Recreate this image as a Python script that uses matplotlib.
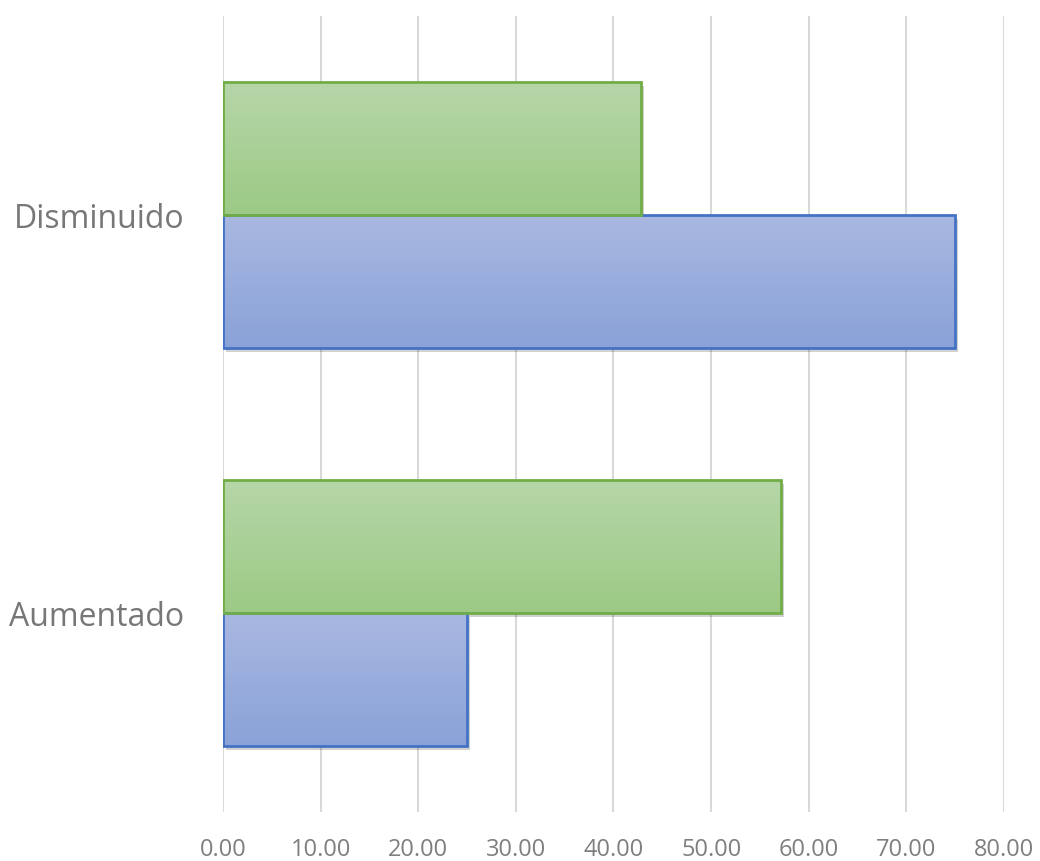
import numpy as np
import matplotlib
matplotlib.use('Agg')
import matplotlib.pyplot as plt
import matplotlib.patheffects as pe
from matplotlib.colors import LinearSegmentedColormap

# Datos
categorias = ["Aumentado", "Disminuido"]
serie_azul = [25.00, 75.00]
serie_verde = [57.14, 42.86]
xticks = [0, 10, 20, 30, 40, 50, 60, 70, 80]

plt.rcParams['font.family'] = ['Open Sans', 'DejaVu Sans']

fig = plt.figure(figsize=(10.4, 8.61), dpi=100)
ax = fig.add_axes([0.2144, 0.0569, 0.7510, 0.9245])

h = 0.334
y = np.arange(len(categorias))

azul_cmap = LinearSegmentedColormap.from_list("azul", ["#a9b8e1", "#8aa2d8"])
verde_cmap = LinearSegmentedColormap.from_list("verde", ["#b6d6a8", "#9cca85"])

def barras_degradado(ys, vals, cmap, borde):
    bars = ax.barh(ys, vals, height=h, facecolor="none", edgecolor=borde,
                   linewidth=2, zorder=4)
    grad = np.linspace(0, 1, 256).reshape(-1, 1)
    for b in bars:
        x0, y0 = b.get_x(), b.get_y()
        w, hh = b.get_width(), b.get_height()
        # sombra
        sh = plt.Rectangle((x0, y0), w, hh, facecolor="white", edgecolor="none",
                           zorder=2,
                           path_effects=[pe.SimplePatchShadow(offset=(2, -3), shadow_rgbFace="#000000", alpha=0.18)])
        ax.add_patch(sh)
        im = ax.imshow(grad, cmap=cmap, aspect="auto", origin="upper",
                       extent=(x0, x0 + w, y0, y0 + hh), zorder=3)
        im.set_clip_path(b)
    return bars

barras_degradado(y - h / 2, serie_azul, azul_cmap, "#4472c4")
barras_degradado(y + h / 2, serie_verde, verde_cmap, "#70ad47")

ax.set_xlim(0, 80)
ax.set_ylim(-0.5, 1.5)
ax.set_xticks(xticks)
ax.set_xticklabels([f"{t:.2f}" for t in xticks], fontsize=17, color="#7f7f7f")
ax.set_yticks(y)
ax.set_yticklabels(categorias, fontsize=23, color="#777777")
ax.tick_params(axis="x", length=0, pad=19)
ax.tick_params(axis="y", length=0, pad=28)
ax.grid(axis="x", color="#d9d9d9", linewidth=1.5, zorder=0)
ax.set_axisbelow(True)
for s in ax.spines.values():
    s.set_visible(False)

fig.savefig("out.png", dpi=100)
